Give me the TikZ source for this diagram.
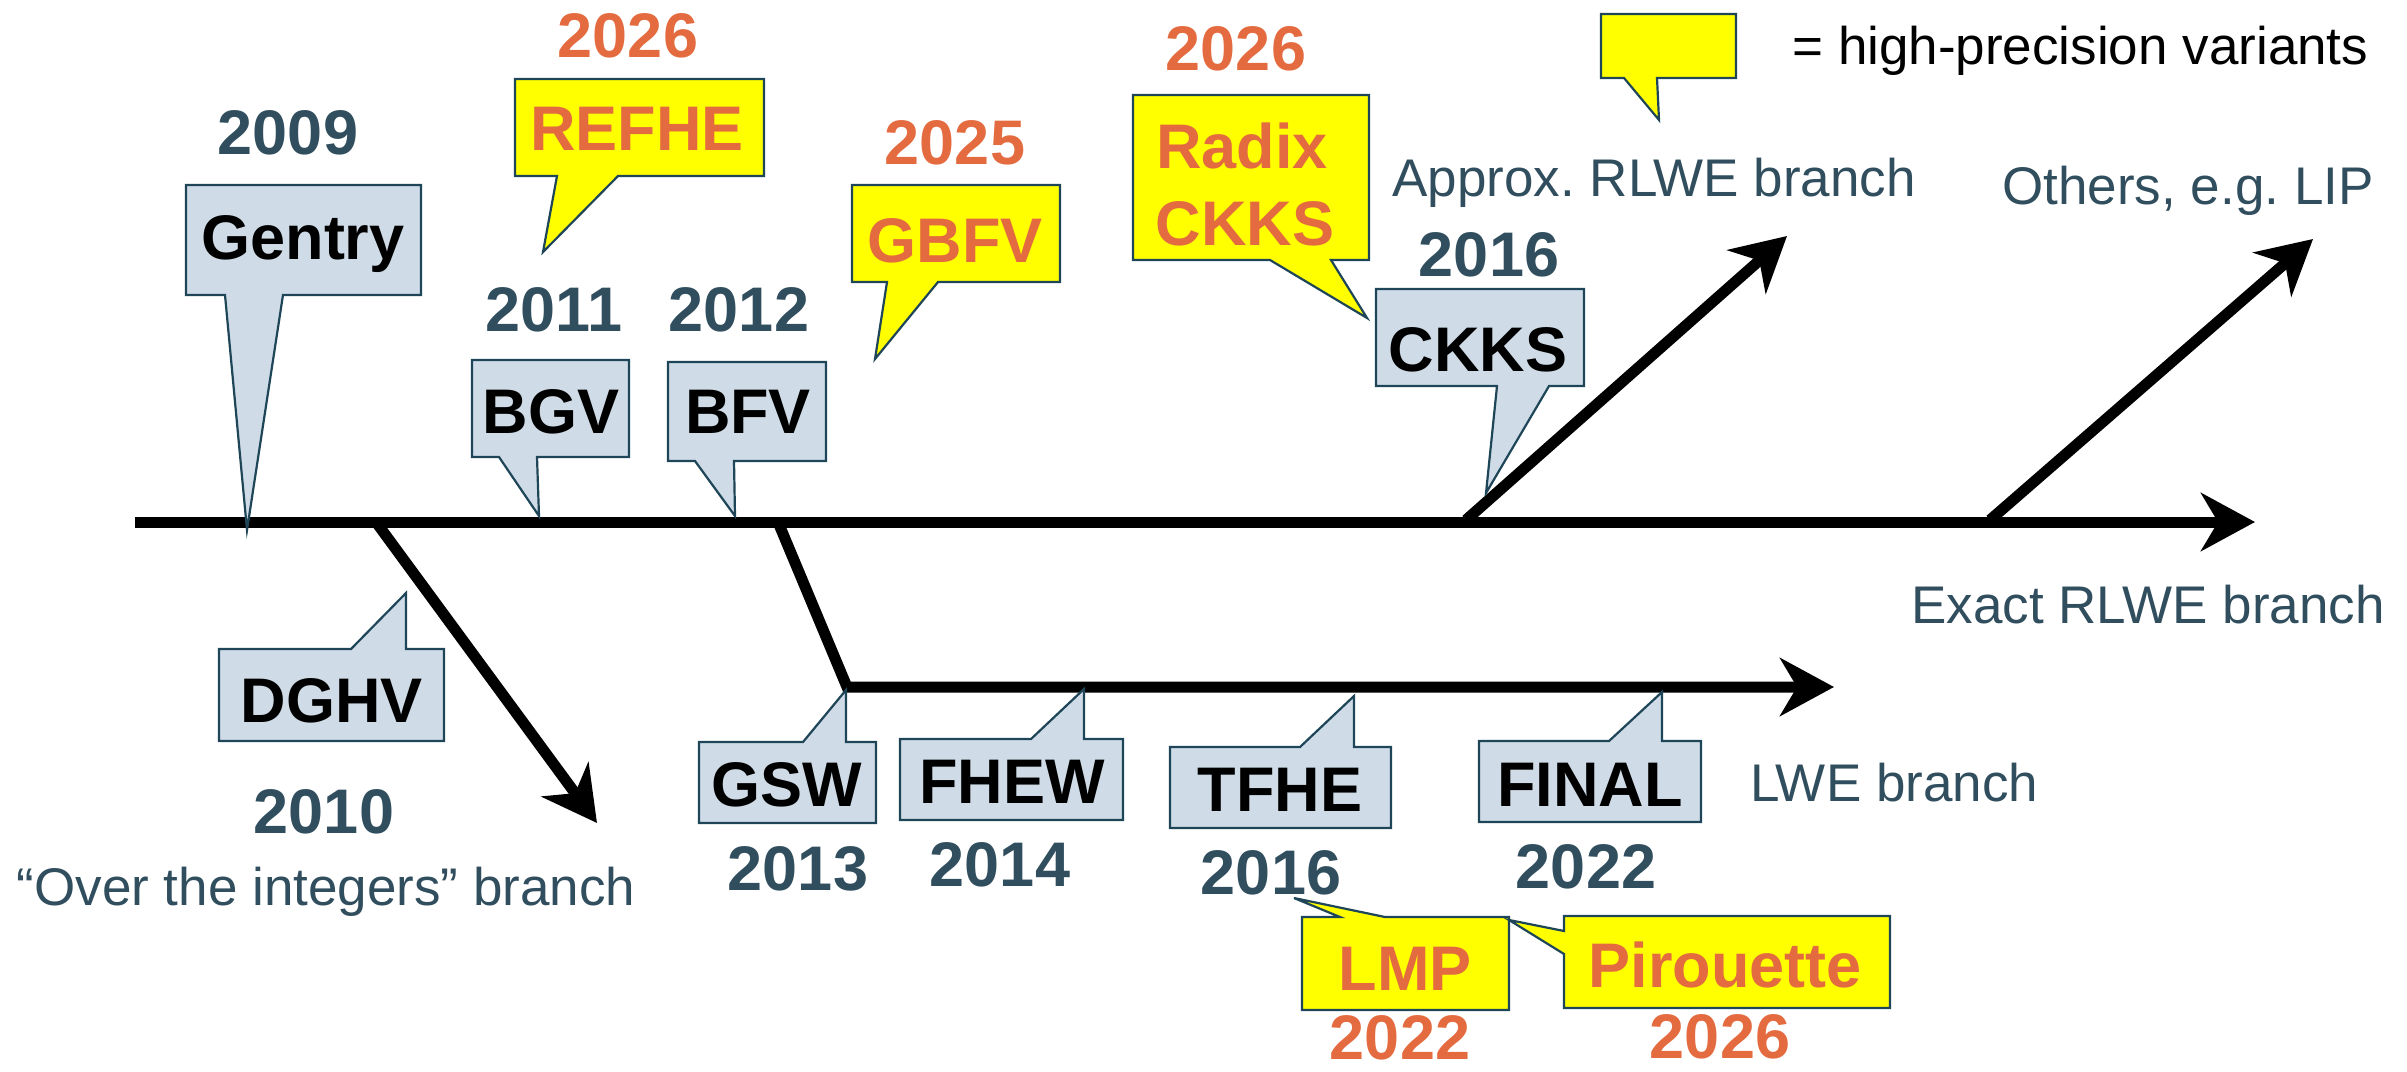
\documentclass[tikz,border=0pt]{standalone}
\usepackage{fontspec}
\setmainfont{Liberation Sans}
\usetikzlibrary{arrows.meta}
\definecolor{slate}{RGB}{49,78,94}
\definecolor{boxfill}{RGB}{207,219,230}
\definecolor{boxline}{RGB}{30,70,88}
\definecolor{hiorange}{RGB}{228,107,63}
\definecolor{hiyellow}{RGB}{255,255,0}
\frenchspacing
\begin{document}
\begin{tikzpicture}[x=0.5pt,y=-0.5pt,
  cbox/.style={draw=boxline, fill=boxfill, line width=1.1pt, line join=miter},
  ybox/.style={draw=boxline, fill=hiyellow, line width=1.1pt, line join=miter},
  lbl/.style={font=\fontsize{31.5pt}{36pt}\selectfont\bfseries, text=black, anchor=base, inner sep=0pt},
  hlbl/.style={lbl, text=hiorange},
  year/.style={lbl, text=slate},
  hyear/.style={lbl, text=hiorange},
  note/.style={font=\fontsize{26.5pt}{30pt}\selectfont, text=slate, anchor=base west, inner sep=0pt},
  branch/.style={line width=5.5pt, line join=miter, -{Stealth[length=27pt,width=29pt,inset=8.5pt]}},
]
\useasboundingbox (0,0) rectangle (2407,1071);

% branch coordinates
\coordinate (mainS) at (135,522);
\coordinate (mainE) at (2255,522);
\coordinate (dghvS) at (376,522);
\coordinate (dghvE) at (597,823);
\coordinate (lweS) at (778,522);
\coordinate (lweK) at (847,687);
\coordinate (lweE) at (1834,687);
\coordinate (apxS) at (1466,520);
\coordinate (apxE) at (1787,236);
\coordinate (othS) at (1990,520);
\coordinate (othE) at (2313,239);

% timeline and branches
\draw[branch] (mainS) -- (mainE);
\draw[branch] (dghvS) -- (dghvE);
\draw[branch] (lweS) -- (lweK) -- (lweE);
\draw[branch] (apxS) -- (apxE);
\draw[branch] (othS) -- (othE);

% callouts above the timeline
\draw[cbox] (186,185) -- (421,185) -- (421,295) -- (283,295) -- (247,530) -- (225,295) -- (186,295) -- cycle;
\draw[ybox] (515,79) -- (764,79) -- (764,176) -- (618,176) -- (543,252) -- (557,176) -- (515,176) -- cycle;
\draw[cbox] (472,360) -- (629,360) -- (629,457) -- (537,457) -- (539,516) -- (499,457) -- (472,457) -- cycle;
\draw[cbox] (668,362) -- (826,362) -- (826,461) -- (734,461) -- (735,516) -- (695,461) -- (668,461) -- cycle;
\draw[ybox] (852,185) -- (1060,185) -- (1060,282) -- (938,282) -- (875,359) -- (887,282) -- (852,282) -- cycle;
\draw[ybox] (1133,95) -- (1369,95) -- (1369,260) -- (1331,260) -- (1367,318) -- (1270,260) -- (1133,260) -- cycle;
\draw[cbox] (1376,289) -- (1584,289) -- (1584,386) -- (1549,386) -- (1486,493) -- (1497,386) -- (1376,386) -- cycle;
\draw[ybox] (1601,14) -- (1736,14) -- (1736,78) -- (1657,78) -- (1659,120) -- (1624,78) -- (1601,78) -- cycle;

% callouts below the timeline
\draw[cbox] (219,649) -- (351,649) -- (406,593) -- (406,649) -- (444,649) -- (444,741) -- (219,741) -- cycle;
\draw[cbox] (699,742) -- (803,742) -- (846,690) -- (846,742) -- (876,742) -- (876,823) -- (699,823) -- cycle;
\draw[cbox] (900,739) -- (1031,739) -- (1084,689) -- (1084,739) -- (1123,739) -- (1123,820) -- (900,820) -- cycle;
\draw[cbox] (1170,747) -- (1300,747) -- (1354,696) -- (1354,747) -- (1391,747) -- (1391,828) -- (1170,828) -- cycle;
\draw[cbox] (1479,741) -- (1609,741) -- (1662,692) -- (1662,741) -- (1701,741) -- (1701,822) -- (1479,822) -- cycle;
\draw[ybox] (1302,917) -- (1340,917) -- (1294,898) -- (1385,917) -- (1509,917) -- (1509,1010) -- (1302,1010) -- cycle;
\draw[ybox] (1564,916) -- (1890,916) -- (1890,1008) -- (1564,1008) -- (1564,954) -- (1509,920) -- (1564,931) -- cycle;

% labels above
\node[year]  (y2009)  at (288,154) {2009};
\node[lbl]   (gentry) at (303,259) {Gentry};
\node[hyear] (y2026a) at (628,57)  {2026};
\node[hlbl]  (refhe)  at (637,150) {REFHE};
\node[year]  (y2011)  at (554,331) {2011};
\node[year]  (y2012)  at (739,331) {2012};
\node[lbl]   (bgv)    at (551,433) {BGV};
\node[lbl]   (bfv)    at (748,433) {BFV};
\node[hyear] (y2025)  at (955,164) {2025};
\node[hlbl]  (gbfv)   at (955,262) {GBFV};
\node[hyear] (y2026b) at (1236,70) {2026};
\node[hlbl]  (radix)  at (1242,168) {Radix};
\node[hlbl]  (rckks)  at (1245,245) {CKKS};
\node[year]  (y2016a) at (1489,276) {2016};
\node[lbl]   (ckks)   at (1478,371) {CKKS};
\node[note]  (approx) at (1392,196) {Approx. RLWE branch};
\node[note]  (others) at (2002,204) {Others, e.g. LIP};
\node[note, text=black] (legend) at (1792,64) {= high-precision variants};
\node[note]  (exact)  at (1911,623) {Exact RLWE branch};

% labels below
\node[lbl]   (dghv)   at (332,722) {DGHV};
\node[year]  (y2010)  at (324,833) {2010};
\node[note, anchor=base] (over) at (326,905) {“Over the integers” branch};
\node[lbl]   (gsw)    at (787,806) {GSW};
\node[lbl]   (fhew)   at (1012,803) {FHEW};
\node[lbl]   (tfhe)   at (1280,811) {TFHE};
\node[lbl]   (final)  at (1590,806) {FINAL};
\node[note]  (lwe)    at (1750,801) {LWE branch};
\node[year]  (y2013)  at (798,890) {2013};
\node[year]  (y2014)  at (1000,886) {2014};
\node[year]  (y2016b) at (1271,894) {2016};
\node[year]  (y2022a) at (1586,888) {2022};
\node[hlbl]  (lmp)    at (1405,990) {LMP};
\node[hlbl]  (pir)    at (1725,987) {Pirouette};
\node[hyear] (y2022b) at (1400,1059) {2022};
\node[hyear] (y2026c) at (1720,1058) {2026};
\end{tikzpicture}
\end{document}
